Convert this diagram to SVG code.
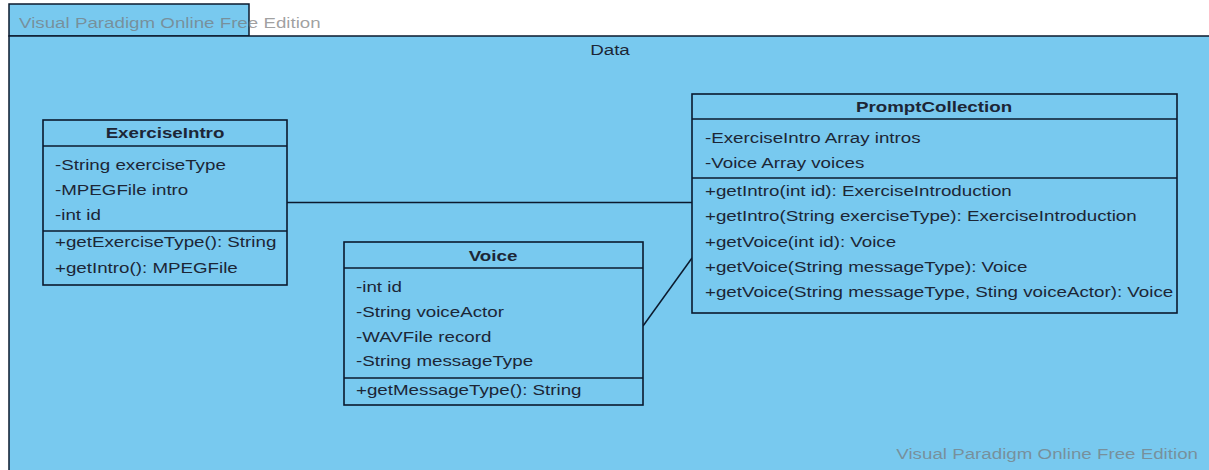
<svg xmlns="http://www.w3.org/2000/svg" width="1209" height="470" viewBox="0 0 1209 470">
<style>
.pk{fill:#78C9EF;stroke:#0b1a2e;stroke-width:1.5}
.box{fill:#78C9EF;stroke:#0b1a2e;stroke-width:1.6}
.sep{stroke:#0b1a2e;stroke-width:1.6}
.t{font-family:"Liberation Sans",Arial,sans-serif;font-size:15px;fill:#1c2636}
.m{text-anchor:middle}
.b{font-weight:bold}
.wm{font-family:"Liberation Sans",Arial,sans-serif;font-size:15px;fill:#777;fill-opacity:0.7}
.c{stroke:#0b1a2e;stroke-width:1.5;fill:none}
</style>
<rect width="1209" height="470" fill="#ffffff"/>
<g id="package-Data">
<rect class="pk" x="9" y="4" width="240" height="32"/>
<rect class="pk" x="9" y="36" width="1210" height="440"/>
<text class="t m" transform="matrix(1.25 0 0 1 610 55)">Data</text>
</g>
<text class="wm" transform="matrix(1.25 0 0 1 19 28)">Visual Paradigm Online Free Edition</text>
<g id="connectors">
<line class="c" x1="287" y1="202.5" x2="692" y2="202.5"/>
<line class="c" x1="643" y1="326" x2="692" y2="258"/>
</g>
<g id="ExerciseIntro">
<rect class="box" x="43" y="120" width="244" height="165"/>
<line class="sep" x1="43" y1="146" x2="287" y2="146"/>
<line class="sep" x1="43" y1="231" x2="287" y2="231"/>
<text class="t b m" transform="matrix(1.25 0 0 1 165 138)">ExerciseIntro</text>
<text class="t" transform="matrix(1.25 0 0 1 55 170)">-String exerciseType</text>
<text class="t" transform="matrix(1.25 0 0 1 55 195)">-MPEGFile intro</text>
<text class="t" transform="matrix(1.25 0 0 1 55 220)">-int id</text>
<text class="t" transform="matrix(1.25 0 0 1 55 247)">+getExerciseType(): String</text>
<text class="t" transform="matrix(1.25 0 0 1 55 273)">+getIntro(): MPEGFile</text>
</g>
<g id="Voice">
<rect class="box" x="344" y="242" width="299" height="163"/>
<line class="sep" x1="344" y1="268" x2="643" y2="268"/>
<line class="sep" x1="344" y1="378" x2="643" y2="378"/>
<text class="t b m" transform="matrix(1.25 0 0 1 493 261)">Voice</text>
<text class="t" transform="matrix(1.25 0 0 1 356 292)">-int id</text>
<text class="t" transform="matrix(1.25 0 0 1 356 317)">-String voiceActor</text>
<text class="t" transform="matrix(1.25 0 0 1 356 342)">-WAVFile record</text>
<text class="t" transform="matrix(1.25 0 0 1 356 366)">-String messageType</text>
<text class="t" transform="matrix(1.25 0 0 1 356 395)">+getMessageType(): String</text>
</g>
<g id="PromptCollection">
<rect class="box" x="692" y="94" width="485" height="219"/>
<line class="sep" x1="692" y1="119" x2="1177" y2="119"/>
<line class="sep" x1="692" y1="178" x2="1177" y2="178"/>
<text class="t b m" transform="matrix(1.25 0 0 1 934 112)">PromptCollection</text>
<text class="t" transform="matrix(1.25 0 0 1 705 143)">-ExerciseIntro Array intros</text>
<text class="t" transform="matrix(1.25 0 0 1 705 168)">-Voice Array voices</text>
<text class="t" transform="matrix(1.25 0 0 1 705 196)">+getIntro(int id): ExerciseIntroduction</text>
<text class="t" transform="matrix(1.25 0 0 1 705 221)">+getIntro(String exerciseType): ExerciseIntroduction</text>
<text class="t" transform="matrix(1.25 0 0 1 705 247)">+getVoice(int id): Voice</text>
<text class="t" transform="matrix(1.25 0 0 1 705 272)">+getVoice(String messageType): Voice</text>
<text class="t" transform="matrix(1.25 0 0 1 705 297)">+getVoice(String messageType, Sting voiceActor): Voice</text>
</g>
<text class="wm" transform="matrix(1.25 0 0 1 1198 459)" text-anchor="end">Visual Paradigm Online Free Edition</text>
</svg>
